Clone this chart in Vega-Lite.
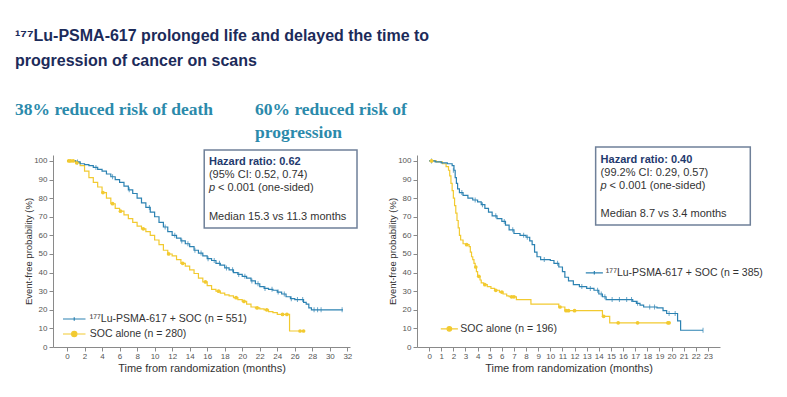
{
  "$schema": "https://vega.github.io/schema/vega-lite/v6.json",
  "background": "white",
  "padding": {"left": 15, "top": 27, "right": 5, "bottom": 5},
  "title": {
    "text": ["¹⁷⁷Lu-PSMA-617 prolonged life and delayed the time to", "progression of cancer on scans"],
    "anchor": "start", "frame": "group", "font": "Liberation Sans", "fontSize": 16, "fontWeight": "bold",
    "color": "#1c2b5a", "lineHeight": 25, "offset": 32, "dx": -38
  },
  "datasets": {
    "os_lu": [
      {"t":0,"s":100},{"t":0.5,"s":100},{"t":1,"s":99.5},{"t":1.5,"s":98.5},{"t":2,"s":98},{"t":2.5,"s":97.5},{"t":3,"s":96.5},{"t":3.5,"s":95.5},{"t":4,"s":94.5},{"t":4.5,"s":93},{"t":5,"s":91.5},{"t":5.5,"s":90},{"t":6,"s":88.5},{"t":6.5,"s":86.5},{"t":7,"s":84.5},{"t":7.5,"s":82.5},{"t":8,"s":80},{"t":8.5,"s":77.5},{"t":9,"s":75},{"t":9.5,"s":72.5},{"t":10,"s":70},{"t":10.5,"s":67},{"t":11,"s":64.5},{"t":11.5,"s":62},{"t":12,"s":60},{"t":12.5,"s":58.5},{"t":13,"s":57},{"t":13.5,"s":55.5},{"t":14,"s":54},{"t":14.5,"s":52},{"t":15,"s":50.5},{"t":15.5,"s":49},{"t":16,"s":47.5},{"t":16.5,"s":46.5},{"t":17,"s":45},{"t":17.5,"s":44},{"t":18,"s":42.5},{"t":18.5,"s":41.5},{"t":19,"s":40},{"t":19.5,"s":39},{"t":20,"s":38},{"t":20.5,"s":37},{"t":21,"s":35.5},{"t":21.5,"s":34},{"t":22,"s":32.5},{"t":22.5,"s":31.5},{"t":23,"s":31},{"t":23.5,"s":30.5},{"t":24,"s":29.5},{"t":24.5,"s":28.5},{"t":25,"s":27},{"t":25.5,"s":26},{"t":26,"s":25.5},{"t":27,"s":24},{"t":27.3,"s":23},{"t":27.6,"s":21},{"t":27.9,"s":20},{"t":31.5,"s":20}
    ],
    "os_soc": [
      {"t":0,"s":100},{"t":0.5,"s":100},{"t":1,"s":99},{"t":1.5,"s":97.5},{"t":2,"s":94.5},{"t":2.5,"s":91},{"t":3,"s":88.5},{"t":3.5,"s":86},{"t":4,"s":83},{"t":4.5,"s":80},{"t":5,"s":77},{"t":5.5,"s":74.5},{"t":6,"s":73},{"t":6.5,"s":71},{"t":7,"s":69},{"t":7.5,"s":67},{"t":8,"s":65},{"t":8.5,"s":63.5},{"t":9,"s":62},{"t":9.5,"s":60},{"t":10,"s":57.5},{"t":10.5,"s":55},{"t":11,"s":52},{"t":11.5,"s":50},{"t":12,"s":49},{"t":12.5,"s":47},{"t":13,"s":45},{"t":13.5,"s":43.5},{"t":14,"s":41.5},{"t":14.5,"s":39.5},{"t":15,"s":37},{"t":15.5,"s":35},{"t":16,"s":33},{"t":16.5,"s":31},{"t":17,"s":30},{"t":17.5,"s":29},{"t":18,"s":28},{"t":18.5,"s":27.5},{"t":19,"s":26.5},{"t":19.5,"s":25.5},{"t":20,"s":24.5},{"t":20.5,"s":23},{"t":21,"s":21.5},{"t":21.5,"s":21},{"t":22,"s":20.5},{"t":22.5,"s":20},{"t":23,"s":19},{"t":23.5,"s":18.5},{"t":24,"s":17.5},{"t":25.4,"s":8.6},{"t":27,"s":8.6}
    ],
    "os_lu_c": [
      {"t":1.2,"s":99.5},{"t":3.3,"s":96.5},{"t":5.2,"s":91.5},{"t":7.1,"s":84.5},{"t":9.4,"s":75},{"t":11.2,"s":64.5},{"t":12.3,"s":60},{"t":13.1,"s":57},{"t":13.8,"s":55.5},{"t":14.6,"s":52},{"t":15.3,"s":50.5},{"t":16.1,"s":47.5},{"t":16.8,"s":46.5},{"t":17.4,"s":45},{"t":18.2,"s":42.5},{"t":18.9,"s":41.5},{"t":19.6,"s":39},{"t":20.3,"s":38},{"t":21.1,"s":35.5},{"t":21.8,"s":34},{"t":22.6,"s":31.5},{"t":23.4,"s":31},{"t":24.1,"s":29.5},{"t":24.8,"s":28.5},{"t":25.6,"s":26},{"t":26.3,"s":25.5},{"t":26.9,"s":25.5},{"t":28.2,"s":20},{"t":28.6,"s":20},{"t":29.0,"s":20},{"t":31.4,"s":20}
    ],
    "os_soc_c": [
      {"t":0.2,"s":100},{"t":0.4,"s":100},{"t":0.7,"s":100},{"t":1.1,"s":99},{"t":4.1,"s":83},{"t":5.2,"s":77},{"t":6.1,"s":73},{"t":8.7,"s":63.5},{"t":11.6,"s":50},{"t":13.2,"s":45},{"t":15.8,"s":35},{"t":17.3,"s":30},{"t":19.3,"s":26.5},{"t":20.2,"s":24.5},{"t":21.7,"s":21},{"t":22.8,"s":20},{"t":24.6,"s":17.5},{"t":25.1,"s":17.5},{"t":26.6,"s":8.6},{"t":27.0,"s":8.6}
    ],
    "pfs_lu": [
      {"t":0,"s":100},{"t":0.5,"s":99.5},{"t":1,"s":99},{"t":1.5,"s":98.5},{"t":1.9,"s":97.5},{"t":2.05,"s":95},{"t":2.15,"s":91},{"t":2.25,"s":88},{"t":2.35,"s":85},{"t":2.5,"s":83},{"t":2.8,"s":81.5},{"t":3.2,"s":80},{"t":3.6,"s":79},{"t":4.0,"s":78},{"t":4.3,"s":76.5},{"t":4.6,"s":74.5},{"t":4.9,"s":72.5},{"t":5.2,"s":70.5},{"t":5.6,"s":69},{"t":6.0,"s":67.5},{"t":6.3,"s":65.5},{"t":6.6,"s":63},{"t":7.0,"s":61},{"t":7.5,"s":60},{"t":8.0,"s":59},{"t":8.3,"s":57},{"t":8.5,"s":55},{"t":8.7,"s":51},{"t":8.9,"s":48.5},{"t":9.2,"s":47},{"t":10.0,"s":46.5},{"t":10.3,"s":45},{"t":10.7,"s":43},{"t":11.0,"s":40.5},{"t":11.2,"s":37.5},{"t":11.5,"s":35.5},{"t":11.9,"s":33.5},{"t":12.4,"s":32.5},{"t":13.0,"s":31.5},{"t":13.6,"s":30.5},{"t":14.0,"s":28.5},{"t":14.3,"s":27},{"t":14.6,"s":25.5},{"t":16.8,"s":24.5},{"t":17.1,"s":23.5},{"t":17.4,"s":22.5},{"t":17.7,"s":21.5},{"t":18.8,"s":21},{"t":19.3,"s":19.5},{"t":19.6,"s":18},{"t":20.5,"s":14},{"t":20.75,"s":9},{"t":22.6,"s":9}
    ],
    "pfs_soc": [
      {"t":0,"s":100},{"t":0.6,"s":99.5},{"t":1.1,"s":98.5},{"t":1.4,"s":97},{"t":1.6,"s":95},{"t":1.7,"s":92},{"t":1.8,"s":88},{"t":1.9,"s":84},{"t":2.0,"s":80},{"t":2.1,"s":76},{"t":2.2,"s":72},{"t":2.3,"s":68},{"t":2.4,"s":64},{"t":2.5,"s":60},{"t":2.6,"s":57.5},{"t":2.8,"s":55.5},{"t":3.0,"s":55},{"t":3.3,"s":54},{"t":3.4,"s":51},{"t":3.5,"s":48.5},{"t":3.6,"s":47},{"t":3.7,"s":45},{"t":3.8,"s":43},{"t":3.9,"s":40.5},{"t":4.0,"s":38},{"t":4.2,"s":36},{"t":4.3,"s":34.5},{"t":4.5,"s":33.5},{"t":4.8,"s":32.5},{"t":5.1,"s":31.5},{"t":5.4,"s":30.5},{"t":5.8,"s":29.5},{"t":6.1,"s":28.5},{"t":6.4,"s":27.5},{"t":6.6,"s":27},{"t":7.2,"s":25.5},{"t":8.4,"s":23},{"t":10.7,"s":21.5},{"t":11.2,"s":19.5},{"t":14.3,"s":16.5},{"t":14.9,"s":13},{"t":19.9,"s":13}
    ],
    "pfs_lu_c": [
      {"t":0.2,"s":100},{"t":2.0,"s":95},{"t":2.7,"s":83},{"t":3.8,"s":79},{"t":4.4,"s":76.5},{"t":5.5,"s":70.5},{"t":6.2,"s":67.5},{"t":6.9,"s":63},{"t":7.8,"s":60},{"t":8.1,"s":59},{"t":9.5,"s":47},{"t":10.6,"s":45},{"t":12.6,"s":32.5},{"t":13.3,"s":31.5},{"t":13.9,"s":30.5},{"t":14.2,"s":28.5},{"t":14.5,"s":27},{"t":15.1,"s":25.5},{"t":15.7,"s":25.5},{"t":16.3,"s":25.5},{"t":16.7,"s":25.5},{"t":17.2,"s":23.5},{"t":18.2,"s":21.5},{"t":18.6,"s":21.5},{"t":19.8,"s":18},{"t":20.3,"s":18},{"t":22.6,"s":9}
    ],
    "pfs_soc_c": [
      {"t":0.2,"s":100},{"t":3.1,"s":55},{"t":3.85,"s":43},{"t":4.1,"s":38},{"t":4.6,"s":33.5},{"t":5.5,"s":30.5},{"t":6.0,"s":29.5},{"t":6.8,"s":27},{"t":7.0,"s":27},{"t":10.8,"s":21.5},{"t":11.3,"s":19.5},{"t":11.5,"s":19.5},{"t":12.0,"s":19.5},{"t":14.4,"s":16.5},{"t":15.6,"s":13},{"t":17.2,"s":13},{"t":19.7,"s":13},{"t":19.8,"s":13}
    ]
  },
  "hconcat": [
    {
      "width": 297, "height": 192,
      "title": {"text": "38% reduced risk of death", "anchor": "start", "frame": "group", "dx": -38, "offset": 31,
        "font": "Liberation Serif", "fontSize": 17.5, "fontWeight": "bold", "color": "#2b8aab"},
      "layer": [
        {"data": {"name": "os_soc"}, "mark": {"type": "line", "interpolate": "step-after", "strokeWidth": 1.2},
          "encoding": {
            "x": {"field": "t", "type": "quantitative", "scale": {"domain": [-1.6, 32.3], "nice": false, "zero": false},
              "axis": {"values": [0,2,4,6,8,10,12,14,16,18,20,22,24,26,28,30,32], "title": "Time from randomization (months)"}},
            "y": {"field": "s", "type": "quantitative", "scale": {"domain": [0, 103.2], "nice": false},
              "axis": {"values": [0,10,20,30,40,50,60,70,80,90,100], "title": "Event-free probability (%)"}},
            "stroke": {"datum": "SOC alone (n = 280)", "type": "nominal",
            "scale": {"domain": ["SOC alone (n = 280)"], "range": ["#f2ca30"]},
            "legend": {"orient": "none", "legendX": 12.75, "legendY": 170.5, "title": null, "labelOffset": 7,
              "symbolType": "M-1.5,0H-0.35M0.35,0H1.5M-0.35,0A0.35,0.35,0,1,0,0.35,0A0.35,0.35,0,1,0,-0.35,0", "symbolSize": 225, "symbolFillColor": "#f2ca30"}}}},
        {"data": {"name": "os_lu"}, "mark": {"type": "line", "interpolate": "step-after", "strokeWidth": 1.2},
          "encoding": {
            "x": {"field": "t", "type": "quantitative", "axis": {"values": [0,2,4,6,8,10,12,14,16,18,20,22,24,26,28,30,32], "title": "Time from randomization (months)"}},
            "y": {"field": "s", "type": "quantitative", "axis": {"values": [0,10,20,30,40,50,60,70,80,90,100], "title": "Event-free probability (%)"}},
            "color": {"datum": "¹⁷⁷Lu-PSMA-617 + SOC (n = 551)", "type": "nominal",
            "scale": {"domain": ["¹⁷⁷Lu-PSMA-617 + SOC (n = 551)"], "range": ["#2c82b2"]},
            "legend": {"orient": "none", "legendX": 12.75, "legendY": 155.5, "title": null, "labelOffset": 7,
              "symbolType": "M-1.5,0H1.5M0,-0.22V0.22", "symbolSize": 225}}}},
        {"data": {"name": "os_lu_c"}, "mark": {"type": "tick", "orient": "vertical", "size": 5, "thickness": 1, "color": "#2c82b2"},
          "encoding": {
            "x": {"field": "t", "type": "quantitative", "axis": {"values": [0,2,4,6,8,10,12,14,16,18,20,22,24,26,28,30,32], "title": "Time from randomization (months)"}},
            "y": {"field": "s", "type": "quantitative", "axis": {"values": [0,10,20,30,40,50,60,70,80,90,100], "title": "Event-free probability (%)"}}}},
        {"data": {"name": "os_soc_c"}, "mark": {"type": "point", "filled": true, "size": 14, "opacity": 1, "color": "#f2ca30"},
          "encoding": {
            "x": {"field": "t", "type": "quantitative", "axis": {"values": [0,2,4,6,8,10,12,14,16,18,20,22,24,26,28,30,32], "title": "Time from randomization (months)"}},
            "y": {"field": "s", "type": "quantitative", "axis": {"values": [0,10,20,30,40,50,60,70,80,90,100], "title": "Event-free probability (%)"}}}},
        {"data": {"values": [{}]},
          "encoding": {
            "x": {"datum": 16.2, "type": "quantitative", "axis": {"values": [0,2,4,6,8,10,12,14,16,18,20,22,24,26,28,30,32], "title": "Time from randomization (months)"}},
            "y": {"datum": 99.3, "type": "quantitative", "axis": {"values": [0,10,20,30,40,50,60,70,80,90,100], "title": "Event-free probability (%)"}}},
          "layer": [
            {"mark": {"type": "rect", "fill": "white", "stroke": "#6f8099", "strokeWidth": 1.5},
              "encoding": {"x": {"datum": 15.66, "type": "quantitative", "axis": {"values": [0,2,4,6,8,10,12,14,16,18,20,22,24,26,28,30,32], "title": "Time from randomization (months)"}}, "x2": {"datum": 33.1},
                "y": {"datum": 105.9, "type": "quantitative", "axis": {"values": [0,10,20,30,40,50,60,70,80,90,100], "title": "Event-free probability (%)"}}, "y2": {"datum": 64.0}}},
            {"mark": {"type": "text", "align": "left", "baseline": "middle", "font": "Liberation Sans", "fontSize": 11, "fontWeight": "bold", "color": "#1f3a6e", "text": "Hazard ratio: 0.62"}},
            {"mark": {"type": "text", "align": "left", "baseline": "middle", "font": "Liberation Sans", "fontSize": 11, "color": "#333333", "text": "(95% CI: 0.52, 0.74)", "dy": 13}},
            {"mark": {"type": "text", "align": "left", "baseline": "middle", "font": "Liberation Sans", "fontSize": 11, "fontStyle": "italic", "color": "#333333", "text": "p", "dy": 26}},
            {"mark": {"type": "text", "align": "left", "baseline": "middle", "font": "Liberation Sans", "fontSize": 11, "color": "#333333", "text": "< 0.001 (one-sided)", "dx": 9, "dy": 26}},
            {"mark": {"type": "text", "align": "left", "baseline": "middle", "font": "Liberation Sans", "fontSize": 11, "color": "#333333", "text": "Median 15.3 vs 11.3 months", "dy": 55}}
          ]}
      ]
    },
    {
      "width": 303, "height": 192,
      "title": {"text": ["60% reduced risk of", "progression"], "anchor": "start", "frame": "group", "dx": -162, "offset": 5, "lineHeight": 23,
        "font": "Liberation Serif", "fontSize": 17.5, "fontWeight": "bold", "color": "#2b8aab"},
      "layer": [
        {"data": {"name": "pfs_soc"}, "mark": {"type": "line", "interpolate": "step-after", "strokeWidth": 1.2},
          "encoding": {
            "x": {"field": "t", "type": "quantitative", "scale": {"domain": [-1.0, 24.0], "nice": false, "zero": false},
              "axis": {"values": [0,1,2,3,4,5,6,7,8,9,10,11,12,13,14,15,16,17,18,19,20,21,22,23], "title": "Time from randomization (months)"}},
            "y": {"field": "s", "type": "quantitative", "scale": {"domain": [0, 103.2], "nice": false},
              "axis": {"values": [0,10,20,30,40,50,60,70,80,90,100], "title": "Event-free probability (%)"}},
            "stroke": {"datum": "SOC alone (n = 196)", "type": "nominal",
            "scale": {"domain": ["SOC alone (n = 196)"], "range": ["#f2ca30"]},
            "legend": {"orient": "none", "legendX": 25.85, "legendY": 167.3, "title": null, "labelOffset": 4.5,
              "symbolType": "M-1.5,0H-0.4M0.4,0H1.5M-0.4,0A0.4,0.4,0,1,0,0.4,0A0.4,0.4,0,1,0,-0.4,0", "symbolSize": 130, "symbolFillColor": "#f2ca30"}}}},
        {"data": {"name": "pfs_lu"}, "mark": {"type": "line", "interpolate": "step-after", "strokeWidth": 1.2},
          "encoding": {
            "x": {"field": "t", "type": "quantitative", "axis": {"values": [0,1,2,3,4,5,6,7,8,9,10,11,12,13,14,15,16,17,18,19,20,21,22,23], "title": "Time from randomization (months)"}},
            "y": {"field": "s", "type": "quantitative", "axis": {"values": [0,10,20,30,40,50,60,70,80,90,100], "title": "Event-free probability (%)"}},
            "color": {"datum": "¹⁷⁷Lu-PSMA-617 + SOC (n = 385)", "type": "nominal",
            "scale": {"domain": ["¹⁷⁷Lu-PSMA-617 + SOC (n = 385)"], "range": ["#2c82b2"]},
            "legend": {"orient": "none", "legendX": 170.85, "legendY": 111.3, "title": null, "labelOffset": 5,
              "symbolType": "M-1.5,0H1.5M0,-0.3V0.3", "symbolSize": 130}}}},
        {"data": {"name": "pfs_lu_c"}, "mark": {"type": "tick", "orient": "vertical", "size": 5, "thickness": 1, "color": "#2c82b2"},
          "encoding": {
            "x": {"field": "t", "type": "quantitative", "axis": {"values": [0,1,2,3,4,5,6,7,8,9,10,11,12,13,14,15,16,17,18,19,20,21,22,23], "title": "Time from randomization (months)"}},
            "y": {"field": "s", "type": "quantitative", "axis": {"values": [0,10,20,30,40,50,60,70,80,90,100], "title": "Event-free probability (%)"}}}},
        {"data": {"name": "pfs_soc_c"}, "mark": {"type": "point", "filled": true, "size": 14, "opacity": 1, "color": "#f2ca30"},
          "encoding": {
            "x": {"field": "t", "type": "quantitative", "axis": {"values": [0,1,2,3,4,5,6,7,8,9,10,11,12,13,14,15,16,17,18,19,20,21,22,23], "title": "Time from randomization (months)"}},
            "y": {"field": "s", "type": "quantitative", "axis": {"values": [0,10,20,30,40,50,60,70,80,90,100], "title": "Event-free probability (%)"}}}},
        {"data": {"values": [{}]},
          "encoding": {
            "x": {"datum": 14.15, "type": "quantitative", "axis": {"values": [0,1,2,3,4,5,6,7,8,9,10,11,12,13,14,15,16,17,18,19,20,21,22,23], "title": "Time from randomization (months)"}},
            "y": {"datum": 100.5, "type": "quantitative", "axis": {"values": [0,10,20,30,40,50,60,70,80,90,100], "title": "Event-free probability (%)"}}},
          "layer": [
            {"mark": {"type": "rect", "fill": "white", "stroke": "#6f8099", "strokeWidth": 1.5},
              "encoding": {"x": {"datum": 13.74, "type": "quantitative", "axis": {"values": [0,1,2,3,4,5,6,7,8,9,10,11,12,13,14,15,16,17,18,19,20,21,22,23], "title": "Time from randomization (months)"}}, "x2": {"datum": 26.5},
                "y": {"datum": 107.5, "type": "quantitative", "axis": {"values": [0,10,20,30,40,50,60,70,80,90,100], "title": "Event-free probability (%)"}}, "y2": {"datum": 65.6}}},
            {"mark": {"type": "text", "align": "left", "baseline": "middle", "font": "Liberation Sans", "fontSize": 11, "fontWeight": "bold", "color": "#1f3a6e", "text": "Hazard ratio: 0.40"}},
            {"mark": {"type": "text", "align": "left", "baseline": "middle", "font": "Liberation Sans", "fontSize": 11, "color": "#333333", "text": "(99.2% CI: 0.29, 0.57)", "dy": 13}},
            {"mark": {"type": "text", "align": "left", "baseline": "middle", "font": "Liberation Sans", "fontSize": 11, "fontStyle": "italic", "color": "#333333", "text": "p", "dy": 26}},
            {"mark": {"type": "text", "align": "left", "baseline": "middle", "font": "Liberation Sans", "fontSize": 11, "color": "#333333", "text": "< 0.001 (one-sided)", "dx": 9, "dy": 26}},
            {"mark": {"type": "text", "align": "left", "baseline": "middle", "font": "Liberation Sans", "fontSize": 11, "color": "#333333", "text": "Median 8.7 vs 3.4 months", "dy": 54}}
          ]}
      ]
    }
  ],
  "spacing": 67,
  "bounds": "flush",
  "resolve": {"scale": {"color": "independent", "stroke": "independent"}},
  "config": {
    "view": {"stroke": null},
    "axis": {
      "grid": false, "domainColor": "#8a8a8a", "tickColor": "#8a8a8a", "tickSize": 4,
      "labelFont": "Liberation Sans", "labelFontSize": 8, "labelColor": "#555555", "labelPadding": 2,
      "titleFont": "Liberation Sans", "titleFontWeight": "normal", "titleColor": "#333333"
    },
    "axisX": {"titleFontSize": 11, "titlePadding": 2, "labelAngle": 0, "labelPadding": 1},
    "axisY": {"titleFontSize": 9.5, "titlePadding": 0},
    "legend": {"padding": 0, "labelFont": "Liberation Sans", "labelFontSize": 10.5, "labelColor": "#333333", "rowPadding": 0, "symbolStrokeWidth": 1.2}
  }
}
